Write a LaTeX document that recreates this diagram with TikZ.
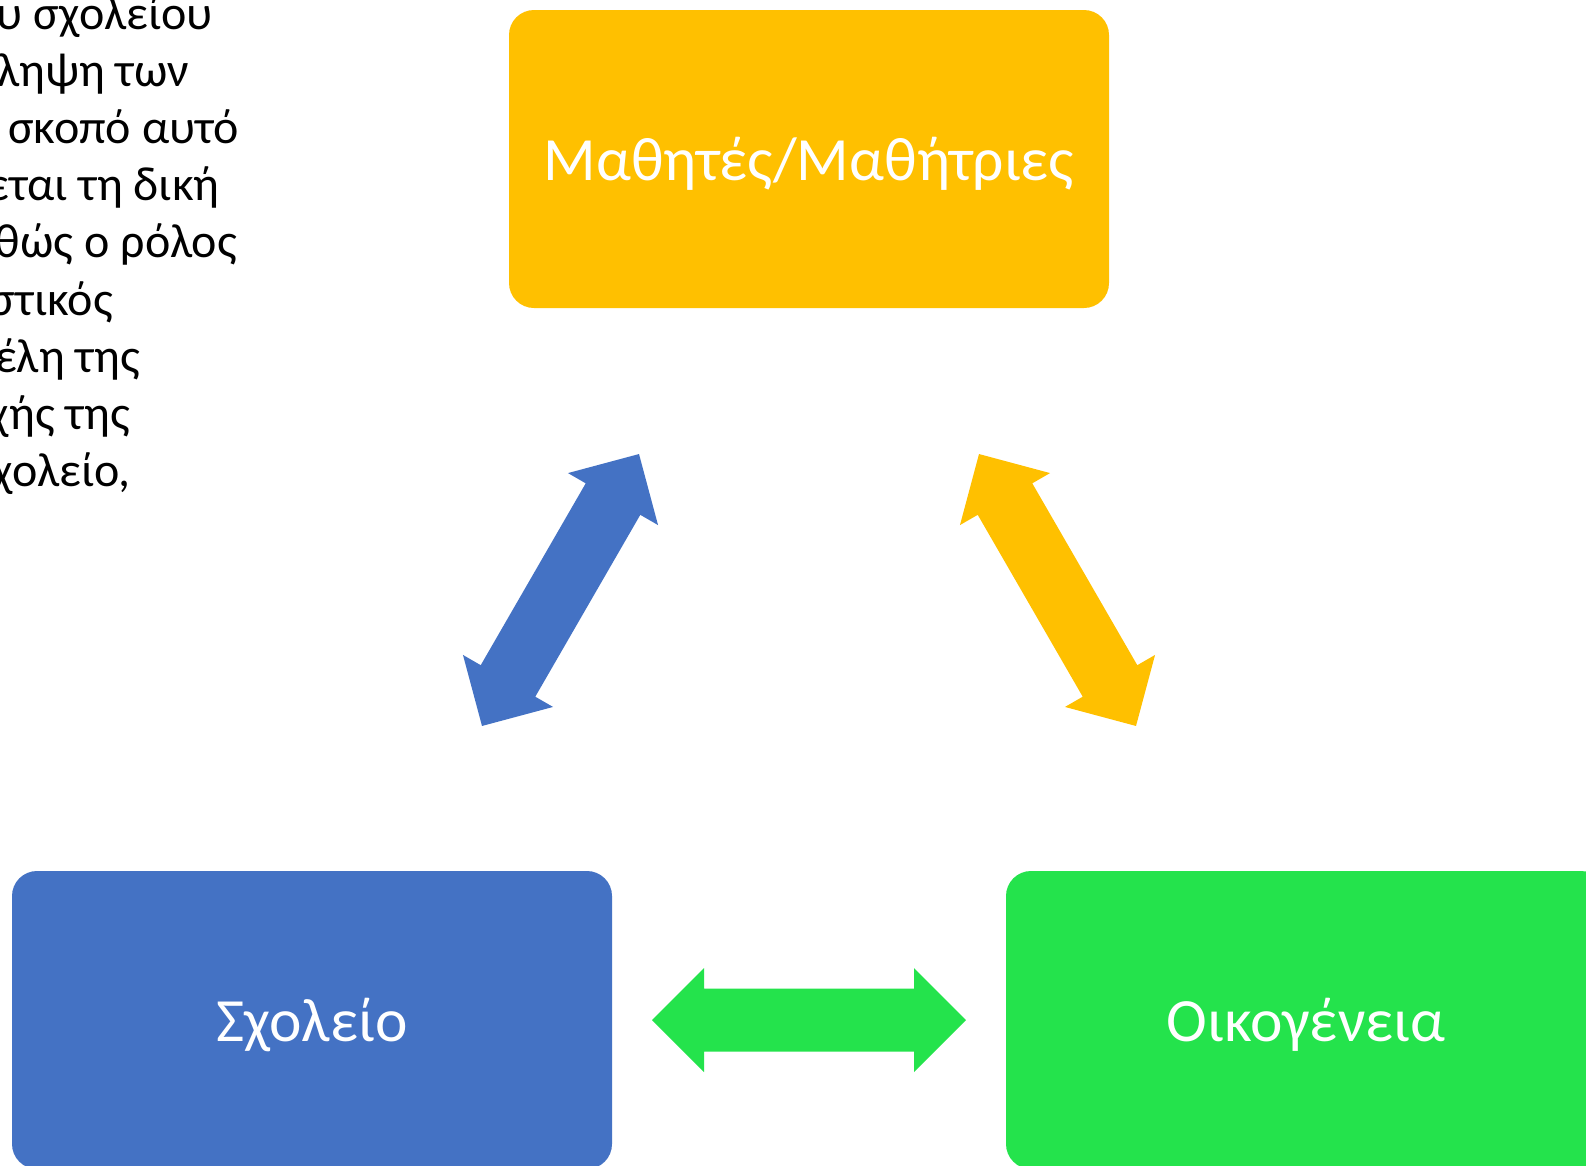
\documentclass[tikz,border=0pt]{standalone}
\usepackage{fontspec}
\setmainfont{Carlito}
\definecolor{yel}{HTML}{FFC000}
\definecolor{blu}{HTML}{4472C4}
\definecolor{grn}{HTML}{24E34C}
\tikzset{
  box/.style={rounded corners=25pt, minimum width=600pt, minimum height=298pt,
    inner sep=0pt, text=white, font=\fontsize{61.5}{70}\selectfont,
    text height=43.5pt, text depth=0pt},
  side/.style={anchor=base east, inner sep=0pt, text=black,
    font=\fontsize{48}{58}\selectfont},
  dblarrow/.pic={\fill[#1] (-157,0) -- (-105,52) -- (-105,31.5) -- (105,31.5)
     -- (105,52) -- (157,0) -- (105,-52) -- (105,-31.5) -- (-105,-31.5)
     -- (-105,-52) -- cycle;}
}
\begin{document}
\begin{tikzpicture}[x=1pt,y=-1pt]
\useasboundingbox (0,0) rectangle (1586,1165);
\clip (0,0) rectangle (1586,1165);
\fill[white] (0,0) rectangle (1586,1165);
% side text
\node[side] (t1) at (213,29) {υ σχολείου};
\node[side] (t2) at (189,86.2) {ληψη των};
\node[side] (t3) at (239,143.4) {σκοπό αυτό};
\node[side] (t4) at (220,200.6) {εται τη δική};
\node[side] (t5) at (237,257.8) {θώς ο ρόλος};
\node[side] (t6) at (113,315) {στικός};
\node[side] (t7) at (140,372.2) {έλη της};
\node[side] (t8) at (130,429.4) {χής της};
\node[side] (t9) at (131,486.6) {χολείο,};
% boxes
\node[box, fill=yel] (stud) at (809,159) {};
\node[anchor=base, text=white, inner sep=0pt, font=\fontsize{61.5}{70}\selectfont]
  (studtxt) at (809,180) {Μαθητές/Μαθήτριες};
\node[box, fill=blu] (school) at (312,1020) {Σχολείο};
\node[box, fill=grn] (family) at (1306,1020) {Οικογένεια};
% block arrows
\pic[rotate=60] (a1) at (560.5,590) {dblarrow=blu};
\pic[rotate=-60] (a2) at (1057.5,590) {dblarrow=yel};
\pic (a3) at (809,1020) {dblarrow=grn};
\end{tikzpicture}
\end{document}
